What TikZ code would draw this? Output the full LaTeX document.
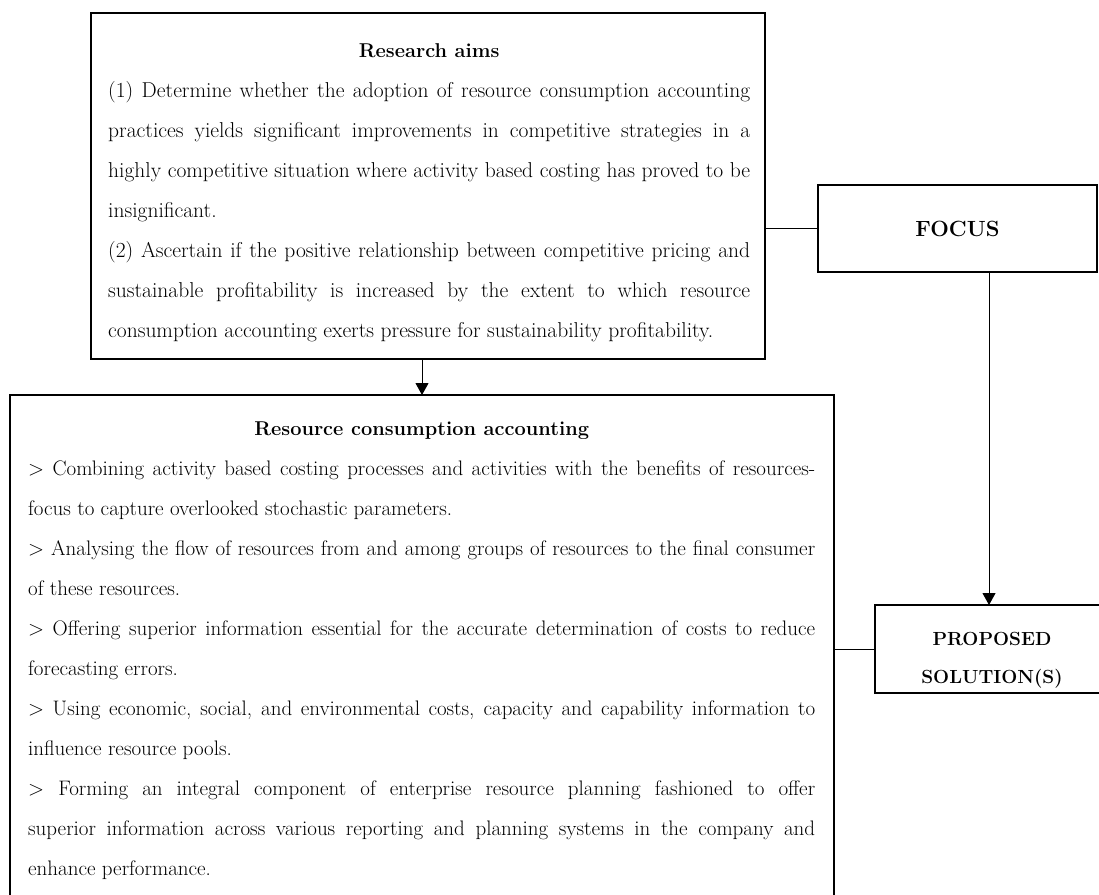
\documentclass[tikz,border=0pt]{standalone}
\usepackage{fontspec}
\usepackage{tikz}
\usetikzlibrary{positioning}
\usetikzlibrary{arrows.meta}
\tolerance=9999
\hyphenpenalty=10000
\tikzset{
  panel/.style={draw, line width=2.2pt, outer sep=0pt, inner sep=0pt, anchor=north west},
  para/.style={inner sep=0pt, align=justify, anchor=base west, font=\fontsize{#1}{40}\selectfont},
  head/.style={inner sep=0pt, align=center, font=\fontsize{19}{38}\selectfont\bfseries},
  link/.style={line width=1pt},
  arr/.style={line width=1pt, -{Triangle[width=13pt,length=12pt]}}
}

\begin{document}
\begin{tikzpicture}[x=1pt,y=-1pt]
   \useasboundingbox (0,0) rectangle (1099,894);

   \node[panel, minimum width=674pt, minimum height=346pt] (ra) at (91,13) {};
   \node[panel, minimum width=824pt, minimum height=520pt] (rca) at (10,395) {};
   \node[panel, minimum width=279pt, minimum height=87pt, below right=172pt and 53pt of ra.north east,
         font=\fontsize{22}{26}\selectfont\bfseries] (fc) {FOCUS};
   \node[panel, minimum width=228pt, minimum height=88pt, below right=210pt and 41pt of rca.north east] (ps) {};

   \node[para=21.5, text width=642pt] (ratxt) at (108,57) {\makebox[\linewidth]{\fontsize{20}{40}\selectfont\bfseries Research aims}\par
      (1) Determine whether the adoption of resource consumption accounting\linebreak
      practices yields significant improvements in competitive strategies in a\linebreak
      highly competitive situation where activity based costing has proved to be\linebreak
      insignificant.\par
      (2) Ascertain if the positive relationship between competitive pricing and\linebreak
      sustainable profitability is increased by the extent to which resource\linebreak
      consumption accounting exerts pressure for sustainability profitability.};

   \node[para=21, text width=787pt] (rcatxt) at (28,435) {\makebox[\linewidth]{\fontsize{20}{40}\selectfont\bfseries Resource consumption accounting}\par
      > Combining activity based costing processes and activities with the benefits of resources-\linebreak
      focus to capture overlooked stochastic parameters.\par
      > Analysing the flow of resources from and among groups of resources to the final consumer\linebreak
      of these resources.\par
      > Offering superior information essential for the accurate determination of costs to reduce\linebreak
      forecasting errors.\par
      > Using economic, social, and environmental costs, capacity and capability information to\linebreak
      influence resource pools.\par
      > Forming an integral component of enterprise resource planning fashioned to offer\linebreak
      superior information across various reporting and planning systems in the company and\linebreak
      enhance performance.};

   \node[head] (pstxt) at (992,660) {PROPOSED\\SOLUTION(S)};

   \draw[link] (fc.west) -- (fc.west -| ra.east);
   \draw[arr] (rca.north |- ra.south) -- (rca.north);
   \draw[arr] (ps.north |- fc.south) -- (ps.north);
   \draw[link] (ps.west) -- (ps.west -| rca.east);
\end{tikzpicture}
\end{document}
